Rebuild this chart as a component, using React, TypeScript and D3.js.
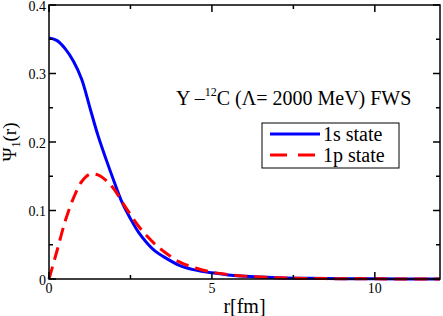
import * as d3 from 'd3';

// radius in fm
const rGrid = [0, 0.25, 0.5, 0.75, 1.0, 1.25, 1.5, 1.75, 2.0, 2.25, 2.5, 2.75, 3.0, 3.25, 3.5, 4.0, 4.5, 5.0, 5.5, 6.0, 7.0, 8.0, 9.0, 10.0, 12.0];
// 1s state wave function
const psi1s = [0.352, 0.348, 0.336, 0.318, 0.292, 0.251, 0.21, 0.175, 0.142, 0.111, 0.088, 0.068, 0.053, 0.041, 0.033, 0.02, 0.013, 0.009, 0.006, 0.004, 0.002, 0.001, 0.0005, 0.0002, 0.0];
// 1p state wave function
const psi1p = [0.0, 0.042, 0.085, 0.118, 0.142, 0.153, 0.152, 0.144, 0.131, 0.112, 0.094, 0.077, 0.063, 0.051, 0.041, 0.025, 0.016, 0.01, 0.0065, 0.0042, 0.0018, 0.0008, 0.0004, 0.0002, 0.0];

const xMajor = [0, 5, 10];
const xMinor = [2.5, 7.5];
const yMajor = [0, 0.1, 0.2, 0.3, 0.4];
const yMinor = [0.05, 0.15, 0.25, 0.35];

const seriesNames = ['1s state', '1p state'];
const seriesColors = ['#0000ff', '#ff0000'];

export default function App() {
    const width = 443;
    const height = 316;
    const margins = { left: 49, right: 3, top: 5, bottom: 37 };

    const xScale = d3.scaleLinear().domain([0, 12]).range([margins.left, width - margins.right]);
    const yScale = d3.scaleLinear().domain([0, 0.4]).range([height - margins.bottom, margins.top]);

    const line = d3
        .line<number>()
        .x((_, i) => xScale(rGrid[i]))
        .y((d) => yScale(d))
        .curve(d3.curveCatmullRom.alpha(0.5));

    const x0 = xScale(0);
    const x1 = xScale(12);
    const y0 = yScale(0);
    const y1 = yScale(0.4);
    const font = '"Liberation Serif", "DejaVu Serif", serif';

    return (
        <svg width={width} height={height} style={{ position: 'absolute', left: 0, top: 0 }} fontFamily={font}>
            <rect x={0} y={0} width={width} height={height} fill='#fff' />

            {/* curves, 1p drawn over 1s */}
            <path d={line(psi1s) ?? ''} fill='none' stroke={seriesColors[0]} strokeWidth={3} />
            <path d={line(psi1p) ?? ''} fill='none' stroke={seriesColors[1]} strokeWidth={3} strokeDasharray='13,7' />

            {/* frame */}
            <rect x={x0} y={y1} width={x1 - x0} height={y0 - y1} fill='none' stroke='#000' strokeWidth={1.5} />

            {/* x ticks, bottom and top, pointing inward */}
            {xMajor.map((t) => (
                <g key={'xM' + t}>
                    <line x1={xScale(t)} x2={xScale(t)} y1={y0} y2={y0 - 7} stroke='#000' strokeWidth={1.5} />
                    <line x1={xScale(t)} x2={xScale(t)} y1={y1} y2={y1 + 7} stroke='#000' strokeWidth={1.5} />
                    <text x={xScale(t)} y={y0 + 14} fontSize={14} textAnchor='middle'>
                        {t}
                    </text>
                </g>
            ))}
            {xMinor.map((t) => (
                <g key={'xm' + t}>
                    <line x1={xScale(t)} x2={xScale(t)} y1={y0} y2={y0 - 4} stroke='#000' strokeWidth={1.5} />
                    <line x1={xScale(t)} x2={xScale(t)} y1={y1} y2={y1 + 4} stroke='#000' strokeWidth={1.5} />
                </g>
            ))}

            {/* y ticks, left and right */}
            {yMajor.map((t) => (
                <g key={'yM' + t}>
                    <line x1={x0} x2={x0 + 7} y1={yScale(t)} y2={yScale(t)} stroke='#000' strokeWidth={1.5} />
                    <line x1={x1} x2={x1 - 7} y1={yScale(t)} y2={yScale(t)} stroke='#000' strokeWidth={1.5} />
                    <text x={x0 - 3} y={yScale(t) + 5.5} fontSize={14} textAnchor='end'>
                        {t === 0 ? '0' : t.toFixed(1)}
                    </text>
                </g>
            ))}
            {yMinor.map((t) => (
                <g key={'ym' + t}>
                    <line x1={x0} x2={x0 + 4} y1={yScale(t)} y2={yScale(t)} stroke='#000' strokeWidth={1.5} />
                    <line x1={x1} x2={x1 - 4} y1={yScale(t)} y2={yScale(t)} stroke='#000' strokeWidth={1.5} />
                </g>
            ))}

            {/* axis titles */}
            <text x={(x0 + x1) / 2} y={313} fontSize={20} textAnchor='middle'>
                r[fm]
            </text>
            <text transform={`translate(16, ${(y0 + y1) / 2}) rotate(-90)`} fontSize={19} textAnchor='middle'>
                Ψ<tspan fontSize={12} dy={4}>1</tspan>
                <tspan dy={-4}>(r)</tspan>
            </text>

            {/* annotation */}
            <text x={176} y={105} fontSize={20}>
                Y –<tspan fontSize={12} dy={-9}>12</tspan>
                <tspan dy={9}>C (Λ= 2000 MeV) FWS</tspan>
            </text>

            {/* legend */}
            <rect x={262} y={123} width={137} height={45} fill='#fff' stroke='#000' strokeWidth={1} />
            {seriesNames.map((name, i) => (
                <g key={name} transform={`translate(0, ${134 + i * 21})`}>
                    <line
                        x1={270}
                        x2={320}
                        y1={0}
                        y2={0}
                        stroke={seriesColors[i]}
                        strokeWidth={3}
                        strokeDasharray={i === 1 ? '17,11' : undefined}
                    />
                    <text x={323} y={7} fontSize={20}>
                        {name}
                    </text>
                </g>
            ))}
        </svg>
    );
}
